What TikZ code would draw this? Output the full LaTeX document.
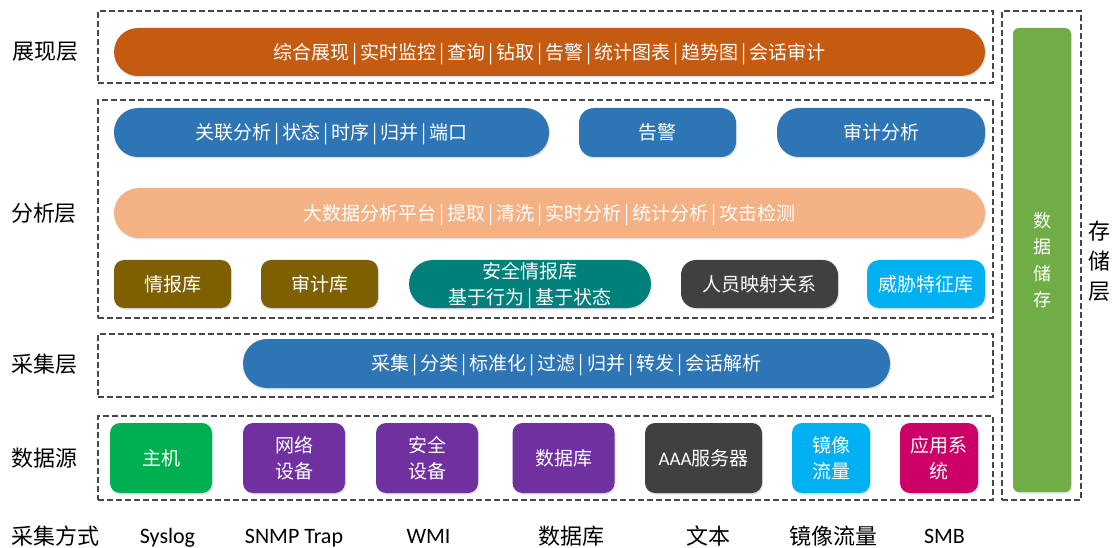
\documentclass[tikz,border=0pt]{standalone}
\usepackage{fontspec}
\usetikzlibrary{shadows}
\setmainfont{Carlito}
\newfontfamily\cjk{Noto Sans CJK SC}
\newfontfamily\lat{Carlito}
\newcommand\vb{\hspace{3pt}\smash{|}\hspace{3pt}}
\definecolor{cOrange}{HTML}{C55A11}
\definecolor{cBlue}{HTML}{2E75B6}
\definecolor{cPeach}{HTML}{F4B183}
\definecolor{cOlive}{HTML}{7F6000}
\definecolor{cTeal}{HTML}{01807B}
\definecolor{cDark}{HTML}{404040}
\definecolor{cSky}{HTML}{00B0F0}
\definecolor{cGreen}{HTML}{00B050}
\definecolor{cPurple}{HTML}{7030A0}
\definecolor{cMagenta}{HTML}{CC0066}
\definecolor{cStore}{HTML}{70AD47}
\definecolor{cShadow}{HTML}{9DB3CC}
\begin{document}
\begin{tikzpicture}[x=1pt,y=-1pt,
  blk/.style={draw=none, text=white, inner sep=0pt, align=center,
    font=\cjk\fontsize{19}{26}\selectfont,
    drop shadow={opacity=0.35, fill=cShadow, shadow xshift=1pt, shadow yshift=-1.5pt}},
  frame/.style={draw=black!72, dash pattern=on 6pt off 3pt, line width=1.1pt,
    inner sep=0pt, fill=none},
  lbl/.style={text=black, inner sep=0pt, align=center,
    font=\cjk\fontsize{22}{30}\selectfont},
  bot/.style={text=black, inner sep=0pt, anchor=base, font=\lat\fontsize{22}{26}\selectfont},
  botc/.style={text=black, inner sep=0pt, anchor=base, font=\cjk\fontsize{22}{26}\selectfont}]
\useasboundingbox (0,0) rectangle (1114,548);
\fill[white] (0,0) rectangle (1114,548);

% frames
\node[frame, minimum width=895pt, minimum height=72pt] (fShow) at (545.5,47) {};
\node[frame, minimum width=895pt, minimum height=218pt] (fAna) at (545.5,209) {};
\node[frame, minimum width=895pt, minimum height=63pt] (fCol) at (545.5,365.5) {};
\node[frame, minimum width=895pt, minimum height=84pt] (fSrc) at (545.5,458) {};
\node[frame, minimum width=79pt, minimum height=489pt] (fSto) at (1041.5,255.5) {};

% presentation
\node[blk, fill=cOrange, rounded corners=24pt, minimum width=871pt, minimum height=48pt] (show) at (549.5,52)
  {综合展现\vb 实时监控\vb 查询\vb 钻取\vb 告警\vb 统计图表\vb 趋势图\vb 会话审计};

% analysis row 1
\node[blk, fill=cBlue, rounded corners=24pt, minimum width=435pt, minimum height=49pt] (corr) at (331.5,132.5)
  {关联分析\vb 状态\vb 时序\vb 归并\vb 端口};
\node[blk, fill=cBlue, rounded corners=15pt, minimum width=157pt, minimum height=49pt] (alarm) at (657.5,132.5)
  {告警};
\node[blk, fill=cBlue, rounded corners=22pt, minimum width=208pt, minimum height=49pt] (audit) at (881,132.5)
  {审计分析};
% analysis row 2
\node[blk, fill=cPeach, rounded corners=25pt, minimum width=871pt, minimum height=50pt] (bigdata) at (549.5,213)
  {大数据分析平台\vb 提取\vb 清洗\vb 实时分析\vb 统计分析\vb 攻击检测};
% analysis row 3
\node[blk, fill=cOlive, rounded corners=10pt, minimum width=117pt, minimum height=48pt] (intel) at (172.5,284) {情报库};
\node[blk, fill=cOlive, rounded corners=10pt, minimum width=117pt, minimum height=48pt] (auditdb) at (319.5,284) {审计库};
\node[blk, fill=cTeal, rounded corners=24pt, minimum width=242pt, minimum height=48pt] (secintel) at (530,284)
  {安全情报库\\基于行为\vb 基于状态};
\node[blk, fill=cDark, rounded corners=15pt, minimum width=157pt, minimum height=48pt] (person) at (759.5,284) {人员映射关系};
\node[blk, fill=cSky, rounded corners=12pt, minimum width=118pt, minimum height=48pt] (threat) at (926,284) {威胁特征库};

% collection
\node[blk, fill=cBlue, rounded corners=24pt, minimum width=647pt, minimum height=49pt] (collect) at (566.5,363.5)
  {采集\vb 分类\vb 标准化\vb 过滤\vb 归并\vb 转发\vb 会话解析};

% data sources
\node[blk, fill=cGreen, rounded corners=10pt, minimum width=102pt, minimum height=70pt] (host) at (161,458) {主机};
\node[blk, fill=cPurple, rounded corners=10pt, minimum width=102pt, minimum height=70pt] (net) at (294,458) {网络\\设备};
\node[blk, fill=cPurple, rounded corners=10pt, minimum width=102pt, minimum height=70pt] (sec) at (427,458) {安全\\设备};
\node[blk, fill=cPurple, rounded corners=10pt, minimum width=102pt, minimum height=70pt] (db) at (563.5,458) {数据库};
\node[blk, fill=cDark, rounded corners=10pt, minimum width=117pt, minimum height=70pt] (aaa) at (703.5,458) {{\lat AAA}服务器};
\node[blk, fill=cSky, rounded corners=10pt, minimum width=78pt, minimum height=70pt] (mirror) at (831,458) {镜像\\流量};
\node[blk, fill=cMagenta, rounded corners=10pt, minimum width=78pt, minimum height=70pt] (app) at (939,458) {应用系\\统};

% storage
\node[blk, fill=cStore, rounded corners=6pt, minimum width=58pt, minimum height=464pt,
  font=\cjk\fontsize{18}{26.3}\selectfont] (store) at (1042,260) {数\\据\\储\\存};
\node[lbl] (lStore) at (1099,261) {存\\储\\层};

% left labels
\node[lbl] (lShow) at (45.5,52) {展现层};
\node[lbl] (lAna) at (44,213) {分析层};
\node[lbl] (lCol) at (45,364) {采集层};
\node[lbl] (lSrc) at (45,458) {数据源};
\node[botc] (lWay) at (56,544) {采集方式};

% bottom labels
\node[bot] (wSys) at (167.5,543) {Syslog};
\node[bot] (wSnmp) at (294,543) {SNMP Trap};
\node[bot] (wWmi) at (428.5,543) {WMI};
\node[botc] (wDb) at (571,544) {数据库};
\node[botc] (wTxt) at (708,544) {文本};
\node[botc] (wMir) at (833.5,544) {镜像流量};
\node[bot] (wSmb) at (944.5,543) {SMB};
\end{tikzpicture}
\end{document}
